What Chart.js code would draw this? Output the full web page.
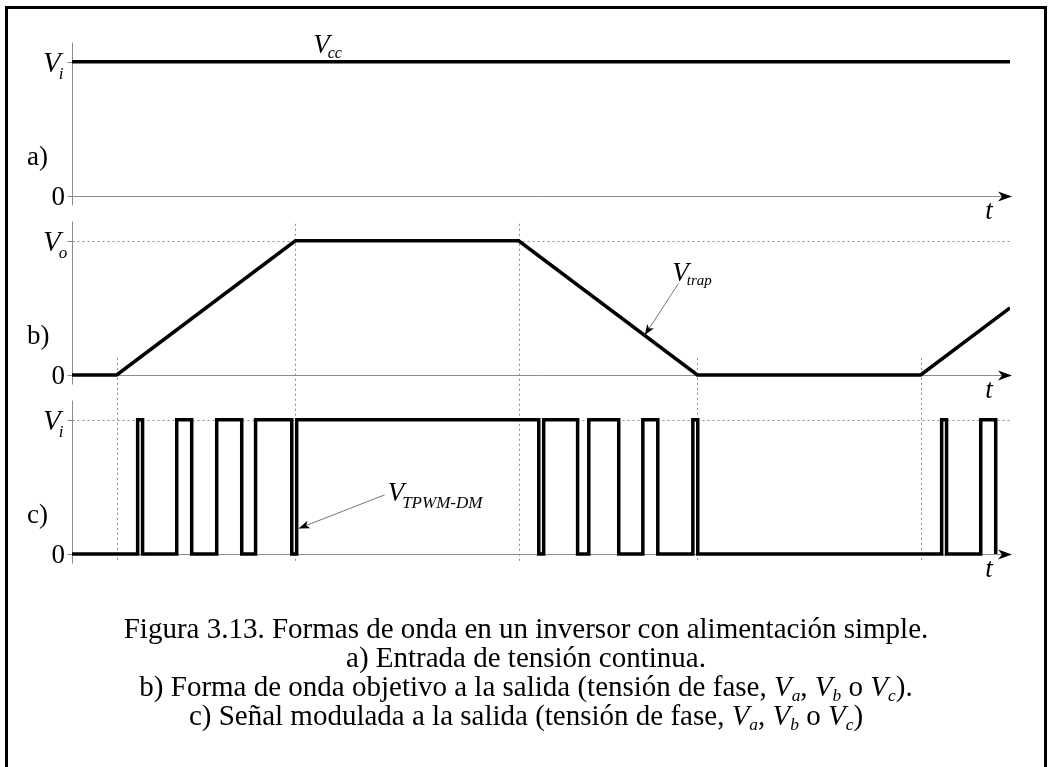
<!DOCTYPE html>
<html>
<head>
<meta charset="utf-8">
<script src="https://cdn.jsdelivr.net/npm/chart.js@4/dist/chart.umd.min.js"></script>
<style>
  html, body { margin: 0; padding: 0; background: #fff; overflow: hidden; }
  #wrap { position: relative; width: 1048px; height: 767px; }
  #frame { position: absolute; left: 5px; top: 6px; width: 1036px; height: 800px; border: 3px solid #000; }
  #fig { position: absolute; left: 0; top: 0; }
  #caption {
    position: absolute; left: 0; top: 614px; width: 1052px;
    text-align: center; color: #000;
    font-family: "Liberation Serif", "Times New Roman", serif;
    font-size: 29px; line-height: 29px;
  }
  #caption sub { font-size: 0.6em; vertical-align: -0.3em; line-height: 0; }
</style>
</head>
<body>
<div id="wrap">
  <div id="frame"></div>
  <canvas id="fig" width="1048" height="767"></canvas>
  <div id="caption">
    <div>Figura 3.13. Formas de onda en un inversor con alimentación simple.</div>
    <div>a) Entrada de tensión continua.</div>
    <div>b) Forma de onda objetivo a la salida (tensión de fase, <i>V<sub>a</sub></i>, <i>V<sub>b</sub></i> o <i>V<sub>c</sub></i>).</div>
    <div>c) Señal modulada a la salida (tensión de fase, <i>V<sub>a</sub></i>, <i>V<sub>b</sub></i> o <i>V<sub>c</sub></i>)</div>
  </div>
</div>
<script>
// time in electrical degrees
const tMin = -20, tMax = 400;

// a) dc input
const dcTime = [-20, 400];
const dcLevel = [1, 1];

// b) trapezoidal target waveform
const trapTime = [-20, 0, 80, 180, 260, 360, 400];
const trapLevel = [0, 0, 1, 1, 0, 0, 0.5];

// c) modulated output: switching instants and the level reached at each one
const pwmTime = [-20, 9.4, 11.6, 26.9, 33.6, 44.8, 56, 62.2, 78.4, 80.6,
  189, 191.2, 206.4, 211.4, 224.8, 235.6, 242.3, 258, 260.2,
  369.4, 371.6, 386.9, 393.6];
const pwmLevel = [0, 1, 0, 1, 0, 1, 0, 1, 0, 1,
  0, 1, 0, 1, 0, 1, 0, 1, 0,
  1, 0, 1, 0];

// axis labels
const panelTags = ['a)', 'b)', 'c)'];
const zeroLabel = '0';
const topLabels = [['V', 'i'], ['V', 'o'], ['V', 'i']];
const axisLabel = 't';

const serif = '"Liberation Serif", "Times New Roman", serif';
const font = (size, italic) => (italic ? 'italic ' : '') + size + 'px ' + serif;
const GREY = '#8c8c8c';

function arrowHead(ctx, fx, fy, tx, ty, len, half, notch) {
  const a = Math.atan2(ty - fy, tx - fx);
  const c = Math.cos(a), s = Math.sin(a);
  const bx = tx - c * len, by = ty - s * len;
  ctx.beginPath();
  ctx.moveTo(tx, ty);
  ctx.lineTo(bx - s * half, by + c * half);
  ctx.lineTo(tx - c * (len - notch), ty - s * (len - notch));
  ctx.lineTo(bx + s * half, by - c * half);
  ctx.closePath();
  ctx.fill();
}

function subscripted(ctx, x, y, main, sub, size, subSize, drop) {
  ctx.font = font(size, true);
  ctx.textAlign = 'left';
  ctx.textBaseline = 'alphabetic';
  ctx.fillText(main, x, y);
  const w = ctx.measureText(main).width;
  ctx.font = font(subSize, true);
  ctx.fillText(sub, x + w - 2, y + drop);
}

const figure = {
  id: 'figure',
  beforeDatasetsDraw(chart) {
    const ctx = chart.ctx, xs = chart.scales.x;
    const ys = [chart.scales.ya, chart.scales.yb, chart.scales.yc];
    const x0 = Math.round(xs.getPixelForValue(tMin)) + 0.5;
    const xEnd = xs.getPixelForValue(tMax);
    ctx.save();
    ctx.lineWidth = 1;
    ys.forEach((y, i) => {
      const p0 = Math.round(y.getPixelForValue(0)) + 0.5;
      const p1 = Math.round(y.getPixelForValue(1)) + 0.5;
      ctx.strokeStyle = GREY;
      ctx.setLineDash([]);
      ctx.beginPath();
      ctx.moveTo(x0, p1 - 20); ctx.lineTo(x0, p0 + 9);
      ctx.moveTo(x0 - 5, p0); ctx.lineTo(x0, p0);
      ctx.moveTo(x0 - 5, p1); ctx.lineTo(x0, p1);
      ctx.moveTo(x0, p0); ctx.lineTo(xEnd, p0);
      ctx.stroke();
      if (i > 0) {
        ctx.setLineDash([2, 3]);
        ctx.beginPath();
        ctx.moveTo(x0, p1); ctx.lineTo(xEnd, p1);
        ctx.stroke();
      }
    });
    // guides through the corners of the trapezoid, down into panel c
    const bottom = ys[2].getPixelForValue(0) + 9;
    ctx.setLineDash([2, 3]);
    ctx.strokeStyle = GREY;
    for (let k = 1; k < trapTime.length - 1; k++) {
      const gx = Math.round(xs.getPixelForValue(trapTime[k])) + 0.5;
      const top = ys[1].getPixelForValue(trapLevel[k]) - 17;
      ctx.beginPath();
      ctx.moveTo(gx, top); ctx.lineTo(gx, bottom);
      ctx.stroke();
    }
    ctx.restore();
  },
  afterDatasetsDraw(chart) {
    const ctx = chart.ctx, xs = chart.scales.x;
    const ys = [chart.scales.ya, chart.scales.yb, chart.scales.yc];
    const x0 = xs.getPixelForValue(tMin);
    const xEnd = xs.getPixelForValue(tMax);
    ctx.save();
    ctx.fillStyle = '#000';
    ys.forEach((y, i) => {
      const p0 = Math.round(y.getPixelForValue(0)) + 0.5;
      const p1 = y.getPixelForValue(1);
      arrowHead(ctx, x0, p0, xEnd + 2, p0, 14, 5, 4);
      ctx.font = font(27, false);
      ctx.textAlign = 'right';
      ctx.textBaseline = 'middle';
      ctx.fillText(zeroLabel, x0 - 7, p0 + 1);
      ctx.textAlign = 'left';
      ctx.textBaseline = 'alphabetic';
      ctx.fillText(panelTags[i], 27, p0 - 32);
      subscripted(ctx, 43, p1 + 10, topLabels[i][0], topLabels[i][1], 29, 17, 7);
      ctx.font = font(27, true);
      ctx.textAlign = 'center';
      ctx.fillText(axisLabel, xEnd - 21, p0 + 22);
    });

    // V_cc over the dc line
    const ccX = xs.getPixelForValue(88);
    subscripted(ctx, ccX, ys[0].getPixelForValue(1) - 9, 'V', 'cc', 27, 16, 5);

    // V_trap with leader onto the falling edge
    ctx.strokeStyle = '#777';
    ctx.lineWidth = 1;
    const trX = xs.getPixelForValue(236.4), trY = ys[1].getPixelForValue((260 - 236.4) / 80);
    const trLx = xs.getPixelForValue(251.5), trLy = ys[1].getPixelForValue(0.68);
    ctx.beginPath(); ctx.moveTo(trLx, trLy); ctx.lineTo(trX, trY); ctx.stroke();
    ctx.fillStyle = '#000';
    arrowHead(ctx, trLx, trLy, trX, trY, 11, 4, 3);
    subscripted(ctx, trLx - 6, trLy - 3, 'V', 'trap', 27, 15, 4);

    // V_TPWM-DM with leader onto the pulse edge
    const pwX = xs.getPixelForValue(80.6) + 2, pwY = ys[2].getPixelForValue(0.19);
    const pwLx = xs.getPixelForValue(120), pwLy = ys[2].getPixelForValue(0.44);
    ctx.beginPath(); ctx.moveTo(pwLx, pwLy); ctx.lineTo(pwX, pwY); ctx.stroke();
    arrowHead(ctx, pwLx, pwLy, pwX, pwY, 11, 4, 3);
    subscripted(ctx, pwLx + 3, pwLy + 6, 'V', 'TPWM-DM', 27, 17, 7);
    ctx.restore();
  }
};

const toPoints = (ts, vs) => ts.map((t, i) => ({ x: t, y: vs[i] }));
const lineStyle = {
  borderColor: '#000', borderWidth: 3.5, pointRadius: 0, fill: false,
  borderJoinStyle: 'miter', borderCapStyle: 'butt', tension: 0
};

new Chart(document.getElementById('fig'), {
  type: 'line',
  data: {
    datasets: [
      { ...lineStyle, label: 'Vcc', data: toPoints(dcTime, dcLevel), yAxisID: 'ya' },
      { ...lineStyle, label: 'Vtrap', data: toPoints(trapTime, trapLevel), yAxisID: 'yb' },
      { ...lineStyle, label: 'VTPWM-DM', data: toPoints(pwmTime, pwmLevel), yAxisID: 'yc', stepped: 'before' }
    ]
  },
  options: {
    responsive: false,
    animation: false,
    events: [],
    layout: { padding: { left: 72, right: 38, top: 39, bottom: 191 } },
    plugins: { legend: { display: false }, tooltip: { enabled: false } },
    scales: {
      x: { type: 'linear', min: tMin, max: tMax, display: false },
      ya: { type: 'linear', min: -0.165, max: 1.17, display: false, stack: 'panels', stackWeight: 1, weight: 3 },
      yb: { type: 'linear', min: -0.165, max: 1.17, display: false, stack: 'panels', stackWeight: 1, weight: 2 },
      yc: { type: 'linear', min: -0.165, max: 1.17, display: false, stack: 'panels', stackWeight: 1, weight: 1 }
    }
  },
  plugins: [figure]
});
</script>
</body>
</html>
